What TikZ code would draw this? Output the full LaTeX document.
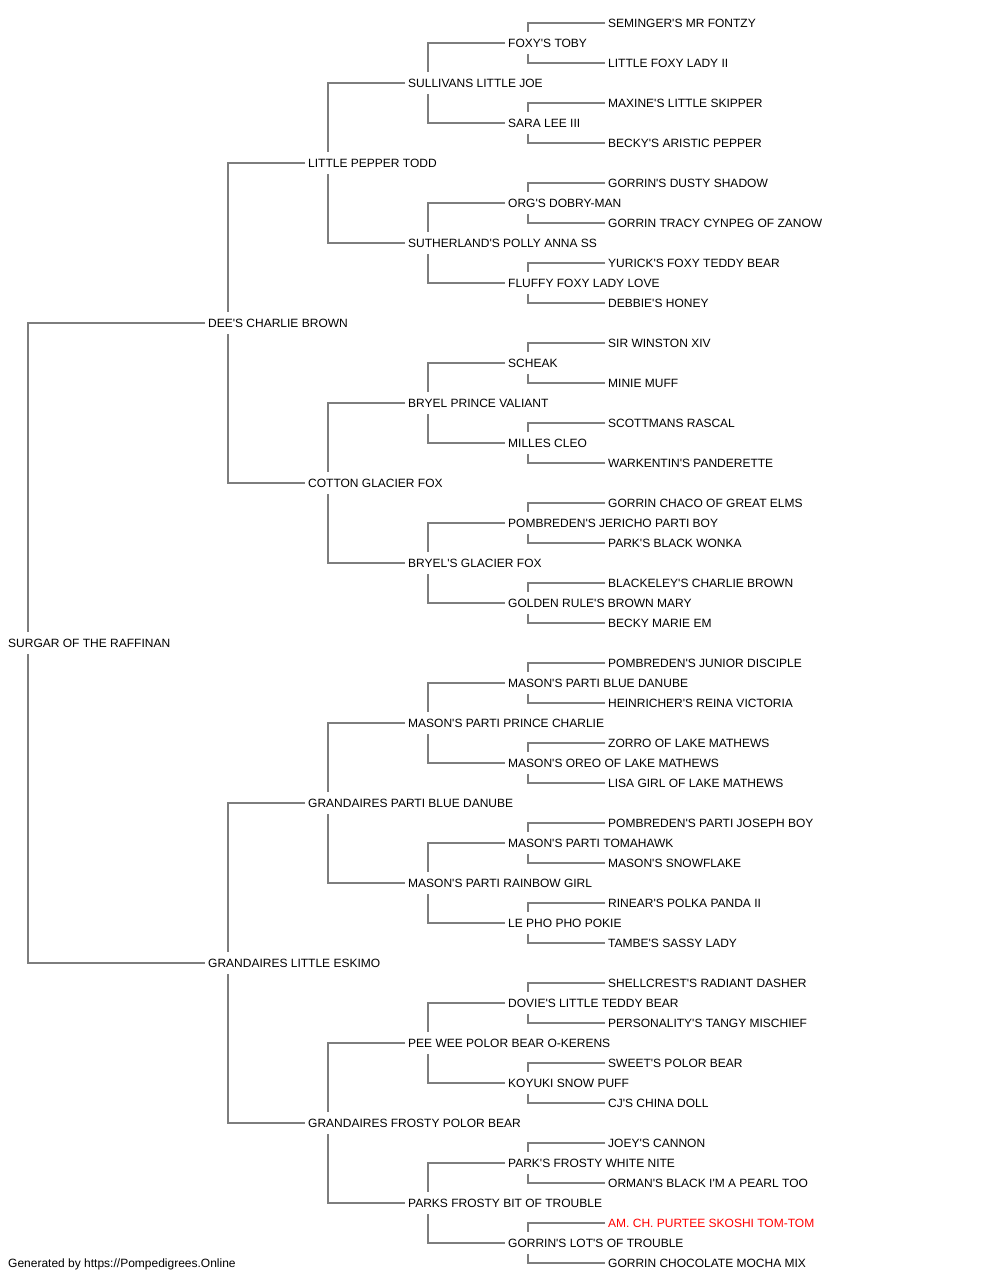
\documentclass[tikz,border=0pt]{standalone}
\usepackage{fontspec}
\setmainfont{Liberation Sans}[Ligatures=TeXOff]
\usetikzlibrary{backgrounds}
\definecolor{linegray}{RGB}{125,125,125}
\definecolor{rednm}{RGB}{255,0,0}
\begin{document}
\begin{tikzpicture}[x=1pt,y=-1pt,
  dog/.style={anchor=west, inner xsep=0pt, inner ysep=0pt, text height=15.3pt, text depth=6.7pt, fill=white, font=\fontsize{12}{14}\selectfont, text=black},
  champ/.style={dog, text=rednm},
  link/.style={draw=linegray, line width=2pt}]
\useasboundingbox (0,0) rectangle (1000,1280);
% generation 0
\node[dog] (n1) at (8,643) {SURGAR OF THE RAFFINAN};
% generation 1
\node[dog] (n2) at (208,323) {DEE'S CHARLIE BROWN};
\node[dog] (n3) at (208,963) {GRANDAIRES LITTLE ESKIMO};
% generation 2
\node[dog] (n4) at (308,163) {LITTLE PEPPER TODD};
\node[dog] (n5) at (308,483) {COTTON GLACIER FOX};
\node[dog] (n6) at (308,803) {GRANDAIRES PARTI BLUE DANUBE};
\node[dog] (n7) at (308,1123) {GRANDAIRES FROSTY POLOR BEAR};
% generation 3
\node[dog] (n8) at (408,83) {SULLIVANS LITTLE JOE};
\node[dog] (n9) at (408,243) {SUTHERLAND'S POLLY ANNA SS};
\node[dog] (n10) at (408,403) {BRYEL PRINCE VALIANT};
\node[dog] (n11) at (408,563) {BRYEL'S GLACIER FOX};
\node[dog] (n12) at (408,723) {MASON'S PARTI PRINCE CHARLIE};
\node[dog] (n13) at (408,883) {MASON'S PARTI RAINBOW GIRL};
\node[dog] (n14) at (408,1043) {PEE WEE POLOR BEAR O-KERENS};
\node[dog] (n15) at (408,1203) {PARKS FROSTY BIT OF TROUBLE};
% generation 4
\node[dog] (n16) at (508,43) {FOXY'S TOBY};
\node[dog] (n17) at (508,123) {SARA LEE III};
\node[dog] (n18) at (508,203) {ORG'S DOBRY-MAN};
\node[dog] (n19) at (508,283) {FLUFFY FOXY LADY LOVE};
\node[dog] (n20) at (508,363) {SCHEAK};
\node[dog] (n21) at (508,443) {MILLES CLEO};
\node[dog] (n22) at (508,523) {POMBREDEN'S JERICHO PARTI BOY};
\node[dog] (n23) at (508,603) {GOLDEN RULE'S BROWN MARY};
\node[dog] (n24) at (508,683) {MASON'S PARTI BLUE DANUBE};
\node[dog] (n25) at (508,763) {MASON'S OREO OF LAKE MATHEWS};
\node[dog] (n26) at (508,843) {MASON'S PARTI TOMAHAWK};
\node[dog] (n27) at (508,923) {LE PHO PHO POKIE};
\node[dog] (n28) at (508,1003) {DOVIE'S LITTLE TEDDY BEAR};
\node[dog] (n29) at (508,1083) {KOYUKI SNOW PUFF};
\node[dog] (n30) at (508,1163) {PARK'S FROSTY WHITE NITE};
\node[dog] (n31) at (508,1243) {GORRIN'S LOT'S OF TROUBLE};
% generation 5
\node[dog] (n32) at (608,23) {SEMINGER'S MR FONTZY};
\node[dog] (n33) at (608,63) {LITTLE FOXY LADY II};
\node[dog] (n34) at (608,103) {MAXINE'S LITTLE SKIPPER};
\node[dog] (n35) at (608,143) {BECKY'S ARISTIC PEPPER};
\node[dog] (n36) at (608,183) {GORRIN'S DUSTY SHADOW};
\node[dog] (n37) at (608,223) {GORRIN TRACY CYNPEG OF ZANOW};
\node[dog] (n38) at (608,263) {YURICK'S FOXY TEDDY BEAR};
\node[dog] (n39) at (608,303) {DEBBIE'S HONEY};
\node[dog] (n40) at (608,343) {SIR WINSTON XIV};
\node[dog] (n41) at (608,383) {MINIE MUFF};
\node[dog] (n42) at (608,423) {SCOTTMANS RASCAL};
\node[dog] (n43) at (608,463) {WARKENTIN'S PANDERETTE};
\node[dog] (n44) at (608,503) {GORRIN CHACO OF GREAT ELMS};
\node[dog] (n45) at (608,543) {PARK'S BLACK WONKA};
\node[dog] (n46) at (608,583) {BLACKELEY'S CHARLIE BROWN};
\node[dog] (n47) at (608,623) {BECKY MARIE EM};
\node[dog] (n48) at (608,663) {POMBREDEN'S JUNIOR DISCIPLE};
\node[dog] (n49) at (608,703) {HEINRICHER'S REINA VICTORIA};
\node[dog] (n50) at (608,743) {ZORRO OF LAKE MATHEWS};
\node[dog] (n51) at (608,783) {LISA GIRL OF LAKE MATHEWS};
\node[dog] (n52) at (608,823) {POMBREDEN'S PARTI JOSEPH BOY};
\node[dog] (n53) at (608,863) {MASON'S SNOWFLAKE};
\node[dog] (n54) at (608,903) {RINEAR'S POLKA PANDA II};
\node[dog] (n55) at (608,943) {TAMBE'S SASSY LADY};
\node[dog] (n56) at (608,983) {SHELLCREST'S RADIANT DASHER};
\node[dog] (n57) at (608,1023) {PERSONALITY'S TANGY MISCHIEF};
\node[dog] (n58) at (608,1063) {SWEET'S POLOR BEAR};
\node[dog] (n59) at (608,1103) {CJ'S CHINA DOLL};
\node[dog] (n60) at (608,1143) {JOEY'S CANNON};
\node[dog] (n61) at (608,1183) {ORMAN'S BLACK I'M A PEARL TOO};
\node[champ] (n62) at (608,1223) {AM. CH. PURTEE SKOSHI TOM-TOM};
\node[dog] (n63) at (608,1263) {GORRIN CHOCOLATE MOCHA MIX};
% footer
\node[dog] (footer) at (8,1263) {Generated by https://Pompedigrees.Online};
% connectors
\begin{scope}[on background layer]
\fill[white] (0,0) rectangle (1000,1280);
\foreach \k in {1,...,31}{
  \pgfmathtruncatemacro\a{2*\k}
  \pgfmathtruncatemacro\b{2*\k+1}
  \draw[link] ([xshift=-3pt]n\a.west) -| ([xshift=20pt]n\k.west) |- ([xshift=-3pt]n\b.west);
}
\end{scope}
\end{tikzpicture}
\end{document}
